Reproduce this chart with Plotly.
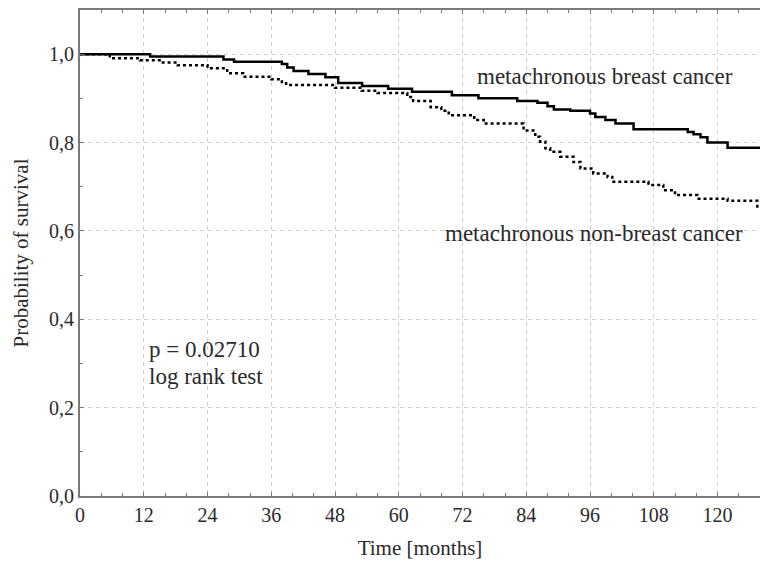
import plotly.graph_objects as go

# Kaplan-Meier step data
breast_t = [0, 13.2, 27, 29, 38, 39, 40.2, 43, 46.2, 48.6, 53.1, 58, 62.5, 70, 75, 82.3,
            86.1, 88, 89.2, 92.3, 96, 97, 98.9, 100.8, 104.2, 114.4, 115.5, 116.8, 118.1, 121.9, 128]
breast_s = [1.0, 0.995, 0.988, 0.983, 0.978, 0.970, 0.962, 0.955, 0.948, 0.935, 0.928, 0.922, 0.915, 0.907, 0.900, 0.894,
            0.890, 0.882, 0.875, 0.872, 0.866, 0.858, 0.851, 0.843, 0.830, 0.824, 0.819, 0.812, 0.800, 0.788, 0.788]

nonbreast_t = [0, 5.6, 11.3, 15.6, 18.4, 24, 27.7, 30.7, 36, 38, 38.8, 48, 53, 56, 61.6, 62.7, 66, 68, 69.4,
               74.2, 76, 83.5, 85.7, 86.6, 87.6, 88.5, 90.4, 92.9, 94.2, 96.6, 99.3, 100.2, 107, 109.8, 112,
               116.2, 121.9, 127.5, 128]
nonbreast_s = [1.0, 0.991, 0.986, 0.981, 0.975, 0.968, 0.957, 0.949, 0.943, 0.937, 0.930, 0.924, 0.917, 0.912, 0.903, 0.894, 0.880, 0.872, 0.862,
               0.851, 0.843, 0.827, 0.813, 0.802, 0.787, 0.779, 0.768, 0.756, 0.741, 0.730, 0.722, 0.711, 0.704, 0.692, 0.681,
               0.673, 0.668, 0.655, 0.655]

x_ticks = [0, 12, 24, 36, 48, 60, 72, 84, 96, 108, 120]
y_ticks = [0.0, 0.2, 0.4, 0.6, 0.8, 1.0]
y_ticklabels = ["0,0", "0,2", "0,4", "0,6", "0,8", "1,0"]

FONT = "Liberation Serif, Times New Roman, serif"
TXT = "#2a2a2a"
AX = "#7a7a7a"
GRID = "#d0d0d0"

fig = go.Figure()
fig.add_trace(go.Scatter(x=breast_t, y=breast_s, mode="lines", line_shape="hv",
                         line=dict(color="black", width=2.5), name="metachronous breast cancer"))
fig.add_trace(go.Scatter(x=nonbreast_t, y=nonbreast_s, mode="lines", line_shape="hv",
                         line=dict(color="black", width=2.5, dash="dot"), name="metachronous non-breast cancer"))

fig.add_annotation(x=123.3, y=0.949, text="metachronous breast cancer", showarrow=False,
                   xanchor="right", yanchor="middle", font=dict(family=FONT, size=23, color=TXT))
fig.add_annotation(x=125.2, y=0.594, text="metachronous non-breast cancer", showarrow=False,
                   xanchor="right", yanchor="middle", font=dict(family=FONT, size=23, color=TXT))
fig.add_annotation(x=12.6, y=0.332, text="p = 0.02710", showarrow=False,
                   xanchor="left", yanchor="middle", font=dict(family=FONT, size=23, color=TXT))
fig.add_annotation(x=12.6, y=0.271, text="log rank test", showarrow=False,
                   xanchor="left", yanchor="middle", font=dict(family=FONT, size=23, color=TXT))

fig.update_layout(
    width=760, height=570, margin=dict(l=80, r=0, t=10, b=74),
    paper_bgcolor="white", plot_bgcolor="white", showlegend=False,
    font=dict(family=FONT, color=TXT, size=20),
)
fig.update_xaxes(range=[0, 128], tickvals=x_ticks, ticks="inside", ticklen=4, tickcolor=AX,
                 showline=True, linecolor=AX, linewidth=2, mirror="allticks", automargin=False,
                 showgrid=True, gridcolor=GRID, griddash="4px,4px", gridwidth=1,
                 minor=dict(dtick=4, tick0=0, ticks="inside", ticklen=3, tickcolor=AX, showgrid=False),
                 zeroline=False, tickfont=dict(size=20),
                 title=dict(text="Time [months]", font=dict(size=21)))
fig.update_yaxes(range=[0, 1.1], tickvals=y_ticks, ticktext=y_ticklabels, ticks="inside", ticklen=4, tickcolor=AX,
                 showline=True, linecolor=AX, linewidth=2, automargin=False,
                 showgrid=True, gridcolor=GRID, griddash="4px,4px", gridwidth=1,
                 minor=dict(dtick=0.1, tick0=0, ticks="inside", ticklen=3, tickcolor=AX, showgrid=False),
                 zeroline=False, tickfont=dict(size=20),
                 title=dict(text="Probability of survival", font=dict(size=21)))

fig.write_html("out.html", config={"displayModeBar": False},
               post_script="document.body.style.margin='0';document.body.style.overflow='hidden';")
